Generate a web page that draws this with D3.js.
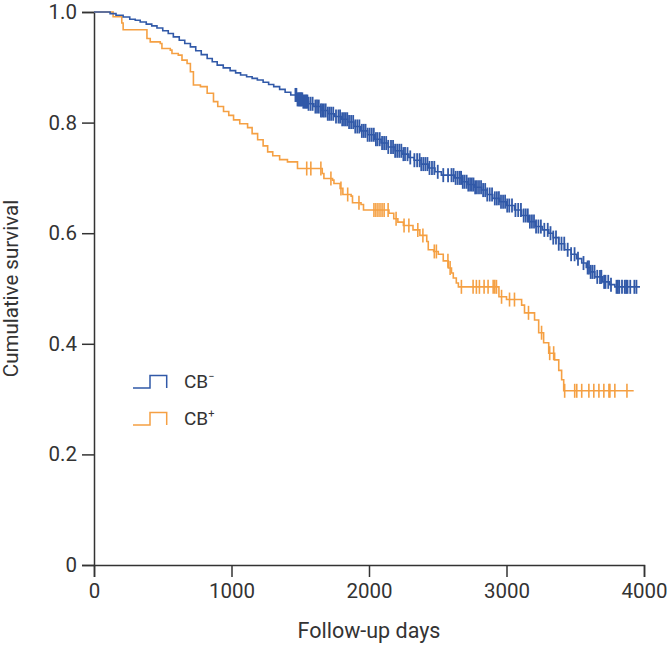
<!DOCTYPE html>
<html>
<head>
<meta charset="utf-8">
<script src="https://cdn.jsdelivr.net/npm/d3@7"></script>
<style>
  html, body { margin: 0; padding: 0; background: #fff; }
  svg text { font-family: Roboto, "Noto Sans", sans-serif; fill: #333; }
</style>
</head>
<body>
<svg id="chart" width="671" height="646"></svg>
<script>
// ---------------- DATA ----------------
const xTicks = [0, 1000, 2000, 3000, 4000];
const yTicks = [0, 0.2, 0.4, 0.6, 0.8, 1.0];
const yTickLabels = ["0", "0.2", "0.4", "0.6", "0.8", "1.0"];
const seriesNames = ["CB\u2212", "CB+"];

// CB− : Kaplan–Meier step times (days) and survival after each step
const cbNegTimes = [117,160,212,260,300,336,380,420,458,500,540,577,620,660,701,740,780,823,860,896,940,990,1030,1066,1110,1150,1188,1230,1270,1307,1350,1390,1431,1480,1520,1560,1599,1650,1700,1750,1800,1845,1890,1940,1990,2040,2088,2140,2190,2240,2290,2328,2380,2430,2480,2526,2620,2680,2720,2770,2818,2860,2900,2950,3000,3058,3110,3160,3210,3260,3307,3340,3380,3423,3470,3510,3547,3580,3610,3642,3700,3750,3788];
const cbNegSurv  = [0.997,0.994,0.991,0.987,0.985,0.982,0.978,0.975,0.971,0.966,0.961,0.955,0.949,0.943,0.937,0.930,0.923,0.916,0.910,0.904,0.899,0.894,0.890,0.886,0.883,0.880,0.877,0.873,0.869,0.865,0.860,0.855,0.850,0.842,0.838,0.834,0.829,0.822,0.816,0.811,0.806,0.801,0.793,0.785,0.778,0.770,0.763,0.756,0.749,0.743,0.737,0.732,0.725,0.718,0.711,0.705,0.700,0.693,0.688,0.683,0.678,0.670,0.663,0.657,0.650,0.642,0.632,0.621,0.612,0.606,0.600,0.592,0.581,0.570,0.562,0.554,0.546,0.538,0.530,0.521,0.512,0.507,0.503];
const cbNegEnd = 3971;
const cbNegCensor = [1465,1472,1480,1488,1495,1502,1508,1515,1522,1530,1538,1545,1552,1560,1575,1590,1610,1622,1635,1650,1660,1672,1685,1700,1712,1725,1740,1760,1778,1790,1805,1818,1830,1842,1855,1870,1885,1900,1915,1930,1948,1962,1975,1990,2005,2020,2035,2050,2062,2078,2095,2110,2125,2140,2160,2175,2190,2205,2220,2235,2250,2262,2280,2300,2330,2350,2368,2380,2395,2410,2425,2440,2458,2475,2500,2540,2575,2600,2615,2630,2645,2660,2670,2682,2695,2710,2722,2735,2748,2760,2772,2785,2800,2815,2830,2845,2860,2878,2895,2915,2930,2945,2960,2975,2990,3005,3020,3040,3065,3085,3105,3125,3140,3155,3170,3185,3200,3215,3232,3250,3275,3300,3320,3340,3360,3380,3400,3420,3445,3470,3495,3520,3560,3590,3600,3612,3625,3640,3660,3680,3690,3710,3720,3740,3760,3800,3810,3820,3840,3860,3870,3880,3900,3930,3945];

// CB+ : Kaplan–Meier step times (days) and survival after each step
const cbPosTimes = [139,202,212,385,409,482,494,555,567,613,640,677,701,723,774,823,869,900,942,980,1015,1060,1117,1150,1190,1230,1263,1300,1350,1407,1480,1660,1672,1735,1745,1790,1810,1870,1880,1942,1960,2145,2180,2210,2250,2320,2370,2420,2431,2470,2504,2540,2577,2600,2613,2635,2650,2945,3000,3110,3131,3204,3234,3270,3307,3350,3380,3401,3416];
const cbPosSurv  = [0.9915,0.980,0.968,0.952,0.946,0.943,0.934,0.931,0.925,0.922,0.913,0.907,0.892,0.868,0.865,0.853,0.838,0.829,0.820,0.813,0.805,0.798,0.791,0.780,0.769,0.758,0.747,0.740,0.733,0.729,0.717,0.708,0.699,0.696,0.690,0.681,0.670,0.667,0.655,0.652,0.642,0.636,0.626,0.620,0.614,0.606,0.596,0.585,0.570,0.567,0.562,0.550,0.537,0.528,0.519,0.510,0.503,0.485,0.480,0.470,0.456,0.443,0.420,0.402,0.383,0.371,0.352,0.335,0.315];
const cbPosEnd = 3925;
const cbPosCensor = [1547,1577,1650,1723,1796,1845,1927,2036,2050,2065,2080,2095,2110,2139,2197,2255,2290,2355,2392,2475,2490,2574,2590,2672,2757,2781,2803,2837,2866,2903,2915,2927,2964,3022,3058,3160,3255,3314,3343,3423,3496,3511,3547,3599,3635,3672,3708,3745,3752,3788,3876];

// ---------------- DRAW ----------------
const colors = ["#3159a8", "#f5a043"];
const svg = d3.select("#chart");
const x = d3.scaleLinear().domain([0, 4000]).range([94, 644]);
const y = d3.scaleLinear().domain([0, 1]).range([565, 12]);

const axisColor = "#333";

// x axis
const xAxis = svg.append("g").attr("transform", `translate(0,${y(0)})`)
  .call(d3.axisBottom(x).tickValues(xTicks).tickFormat(d3.format("d")).tickSizeOuter(0).tickSize(12).tickPadding(6));
// y axis
const yAxis = svg.append("g").attr("transform", `translate(${x(0)},0)`)
  .call(d3.axisLeft(y).tickValues(yTicks).tickFormat((d, i) => yTickLabels[i]).tickSizeOuter(0).tickSize(12).tickPadding(5));

[xAxis, yAxis].forEach(g => {
  g.select(".domain").attr("stroke", axisColor).attr("stroke-width", 1.5);
  g.selectAll(".tick line").attr("stroke", axisColor).attr("stroke-width", 1.5);
  g.selectAll(".tick text").attr("font-size", 20.5).attr("fill", "#333")
    .style("font-family", "Roboto, sans-serif");
});

// axis titles
svg.append("text").attr("x", (x(0) + x(4000)) / 2).attr("y", 638)
  .attr("text-anchor", "middle").attr("font-size", 21.5).text("Follow-up days");
svg.append("text").attr("transform", `translate(18,${(y(0) + y(1)) / 2}) rotate(-90)`)
  .attr("text-anchor", "middle").attr("font-size", 20.5).text("Cumulative survival");

// curves
function stepPoints(times, surv, end) {
  const pts = [[0, 1]];
  times.forEach((t, i) => pts.push([t, surv[i]]));
  pts.push([end, surv[surv.length - 1]]);
  return pts;
}
function survAt(times, surv, t) {
  const i = d3.bisectRight(times, t);
  return i === 0 ? 1 : surv[i - 1];
}
const line = d3.line().x(d => x(d[0])).y(d => y(d[1])).curve(d3.curveStepAfter);

const series = [
  { times: cbNegTimes, surv: cbNegSurv, end: cbNegEnd, censor: cbNegCensor, color: colors[0], tw: 1.8 },
  { times: cbPosTimes, surv: cbPosSurv, end: cbPosEnd, censor: cbPosCensor, color: colors[1], tw: 1.6 }
];

[series[1], series[0]].forEach(s => {
  const g = svg.append("g");
  g.append("path").datum(stepPoints(s.times, s.surv, s.end))
    .attr("d", line).attr("fill", "none").attr("stroke", s.color).attr("stroke-width", 1.6);
  g.selectAll("line.c").data(s.censor).join("line")
    .attr("x1", d => x(d)).attr("x2", d => x(d))
    .attr("y1", d => y(survAt(s.times, s.surv, d)) - 7)
    .attr("y2", d => y(survAt(s.times, s.surv, d)) + 7)
    .attr("stroke", s.color).attr("stroke-width", s.tw);
});

// legend
const legendY = [388, 425];
seriesNames.forEach((name, i) => {
  const by = legendY[i], ty = by - 12.5;
  svg.append("path")
    .attr("d", `M133,${by}H150V${ty}H166.7V${by}`)
    .attr("fill", "none").attr("stroke", colors[i]).attr("stroke-width", 1.5);
  const t = svg.append("text").attr("x", 184).attr("y", by).attr("font-size", 19);
  t.append("tspan").text(name.slice(0, 2));
  t.append("tspan").attr("font-size", 11).attr("dy", -8).text(name.slice(2));
});
</script>
</body>
</html>
